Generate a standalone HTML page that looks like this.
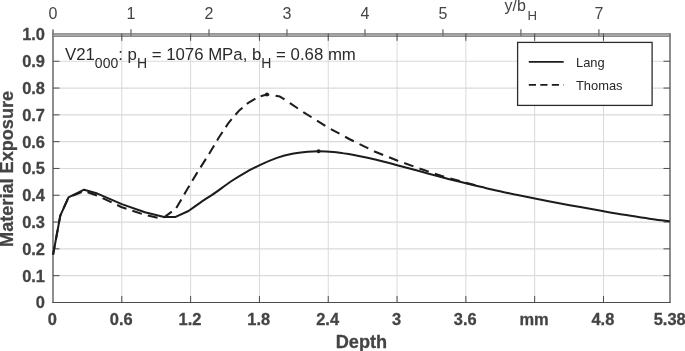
<!DOCTYPE html>
<html><head><meta charset="utf-8"><title>Material Exposure</title>
<style>
html,body{margin:0;padding:0;background:#fff;}
svg{display:block;}
text{font-family:"Liberation Sans",sans-serif;fill:#444;}
.b{font-weight:bold;stroke:#444;stroke-width:0.28px;}
.t{font-size:16.2px;}
</style></head><body>
<svg width="685" height="351" viewBox="0 0 685 351">
<rect width="685" height="351" fill="#fff"/>
<line x1="121.81" y1="34.45" x2="121.81" y2="302.45" stroke="#d4d6d6" stroke-width="0.9"/>
<line x1="190.62" y1="34.45" x2="190.62" y2="302.45" stroke="#d4d6d6" stroke-width="0.9"/>
<line x1="259.43" y1="34.45" x2="259.43" y2="302.45" stroke="#d4d6d6" stroke-width="0.9"/>
<line x1="328.24" y1="34.45" x2="328.24" y2="302.45" stroke="#d4d6d6" stroke-width="0.9"/>
<line x1="397.05" y1="34.45" x2="397.05" y2="302.45" stroke="#d4d6d6" stroke-width="0.9"/>
<line x1="465.86" y1="34.45" x2="465.86" y2="302.45" stroke="#d4d6d6" stroke-width="0.9"/>
<line x1="534.67" y1="34.45" x2="534.67" y2="302.45" stroke="#d4d6d6" stroke-width="0.9"/>
<line x1="603.48" y1="34.45" x2="603.48" y2="302.45" stroke="#d4d6d6" stroke-width="0.9"/>
<line x1="53.0" y1="275.65" x2="670.0" y2="275.65" stroke="#d9dbdb" stroke-width="1.15"/>
<line x1="53.0" y1="248.85" x2="670.0" y2="248.85" stroke="#d9dbdb" stroke-width="1.15"/>
<line x1="53.0" y1="222.05" x2="670.0" y2="222.05" stroke="#d9dbdb" stroke-width="1.15"/>
<line x1="53.0" y1="195.25" x2="670.0" y2="195.25" stroke="#d9dbdb" stroke-width="1.15"/>
<line x1="53.0" y1="168.45" x2="670.0" y2="168.45" stroke="#d9dbdb" stroke-width="1.15"/>
<line x1="53.0" y1="141.65" x2="670.0" y2="141.65" stroke="#d9dbdb" stroke-width="1.15"/>
<line x1="53.0" y1="114.85" x2="670.0" y2="114.85" stroke="#d9dbdb" stroke-width="1.15"/>
<line x1="53.0" y1="88.05" x2="670.0" y2="88.05" stroke="#d9dbdb" stroke-width="1.15"/>
<line x1="53.0" y1="61.25" x2="670.0" y2="61.25" stroke="#d9dbdb" stroke-width="1.15"/>
<rect x="52.5" y="33.2" width="618.0" height="3.7" fill="#adadad"/>
<line x1="52.5" y1="33.8" x2="670.5" y2="33.8" stroke="#888" stroke-width="1"/>
<line x1="52.5" y1="36.4" x2="670.5" y2="36.4" stroke="#888" stroke-width="1"/>
<line x1="53.0" y1="29.5" x2="53.0" y2="302.95" stroke="#7a7a7a" stroke-width="1.7"/>
<line x1="670.0" y1="33.5" x2="670.0" y2="302.95" stroke="#7a7a7a" stroke-width="1.7"/>
<line x1="52.5" y1="302.45" x2="670.5" y2="302.45" stroke="#4c4c4c" stroke-width="1.1"/>
<line x1="121.81" y1="302.45" x2="121.81" y2="295.95" stroke="#4c4c4c" stroke-width="1"/>
<line x1="121.81" y1="33.6" x2="121.81" y2="40.8" stroke="#4a4a4a" stroke-width="1"/>
<line x1="190.62" y1="302.45" x2="190.62" y2="295.95" stroke="#4c4c4c" stroke-width="1"/>
<line x1="190.62" y1="33.6" x2="190.62" y2="40.8" stroke="#4a4a4a" stroke-width="1"/>
<line x1="259.43" y1="302.45" x2="259.43" y2="295.95" stroke="#4c4c4c" stroke-width="1"/>
<line x1="259.43" y1="33.6" x2="259.43" y2="40.8" stroke="#4a4a4a" stroke-width="1"/>
<line x1="328.24" y1="302.45" x2="328.24" y2="295.95" stroke="#4c4c4c" stroke-width="1"/>
<line x1="328.24" y1="33.6" x2="328.24" y2="40.8" stroke="#4a4a4a" stroke-width="1"/>
<line x1="397.05" y1="302.45" x2="397.05" y2="295.95" stroke="#4c4c4c" stroke-width="1"/>
<line x1="397.05" y1="33.6" x2="397.05" y2="40.8" stroke="#4a4a4a" stroke-width="1"/>
<line x1="465.86" y1="302.45" x2="465.86" y2="295.95" stroke="#4c4c4c" stroke-width="1"/>
<line x1="465.86" y1="33.6" x2="465.86" y2="40.8" stroke="#4a4a4a" stroke-width="1"/>
<line x1="534.67" y1="302.45" x2="534.67" y2="295.95" stroke="#4c4c4c" stroke-width="1"/>
<line x1="534.67" y1="33.6" x2="534.67" y2="40.8" stroke="#4a4a4a" stroke-width="1"/>
<line x1="603.48" y1="302.45" x2="603.48" y2="295.95" stroke="#4c4c4c" stroke-width="1"/>
<line x1="603.48" y1="33.6" x2="603.48" y2="40.8" stroke="#4a4a4a" stroke-width="1"/>
<line x1="53.0" y1="275.65" x2="59.5" y2="275.65" stroke="#4c4c4c" stroke-width="1"/>
<line x1="670.0" y1="275.65" x2="663.5" y2="275.65" stroke="#4c4c4c" stroke-width="1"/>
<line x1="53.0" y1="248.85" x2="59.5" y2="248.85" stroke="#4c4c4c" stroke-width="1"/>
<line x1="670.0" y1="248.85" x2="663.5" y2="248.85" stroke="#4c4c4c" stroke-width="1"/>
<line x1="53.0" y1="222.05" x2="59.5" y2="222.05" stroke="#4c4c4c" stroke-width="1"/>
<line x1="670.0" y1="222.05" x2="663.5" y2="222.05" stroke="#4c4c4c" stroke-width="1"/>
<line x1="53.0" y1="195.25" x2="59.5" y2="195.25" stroke="#4c4c4c" stroke-width="1"/>
<line x1="670.0" y1="195.25" x2="663.5" y2="195.25" stroke="#4c4c4c" stroke-width="1"/>
<line x1="53.0" y1="168.45" x2="59.5" y2="168.45" stroke="#4c4c4c" stroke-width="1"/>
<line x1="670.0" y1="168.45" x2="663.5" y2="168.45" stroke="#4c4c4c" stroke-width="1"/>
<line x1="53.0" y1="141.65" x2="59.5" y2="141.65" stroke="#4c4c4c" stroke-width="1"/>
<line x1="670.0" y1="141.65" x2="663.5" y2="141.65" stroke="#4c4c4c" stroke-width="1"/>
<line x1="53.0" y1="114.85" x2="59.5" y2="114.85" stroke="#4c4c4c" stroke-width="1"/>
<line x1="670.0" y1="114.85" x2="663.5" y2="114.85" stroke="#4c4c4c" stroke-width="1"/>
<line x1="53.0" y1="88.05" x2="59.5" y2="88.05" stroke="#4c4c4c" stroke-width="1"/>
<line x1="670.0" y1="88.05" x2="663.5" y2="88.05" stroke="#4c4c4c" stroke-width="1"/>
<line x1="53.0" y1="61.25" x2="59.5" y2="61.25" stroke="#4c4c4c" stroke-width="1"/>
<line x1="670.0" y1="61.25" x2="663.5" y2="61.25" stroke="#4c4c4c" stroke-width="1"/>
<line x1="130.99" y1="29.3" x2="130.99" y2="36" stroke="#6e6e6e" stroke-width="1.3"/>
<line x1="208.97" y1="29.3" x2="208.97" y2="36" stroke="#6e6e6e" stroke-width="1.3"/>
<line x1="286.96" y1="29.3" x2="286.96" y2="36" stroke="#6e6e6e" stroke-width="1.3"/>
<line x1="364.94" y1="29.3" x2="364.94" y2="36" stroke="#6e6e6e" stroke-width="1.3"/>
<line x1="442.93" y1="29.3" x2="442.93" y2="36" stroke="#6e6e6e" stroke-width="1.3"/>
<line x1="520.91" y1="29.3" x2="520.91" y2="36" stroke="#6e6e6e" stroke-width="1.3"/>
<line x1="598.90" y1="29.3" x2="598.90" y2="36" stroke="#6e6e6e" stroke-width="1.3"/>
<polyline points="53.1,254.6 60.3,215.6 68.5,197.4 84.1,191.0 97.4,195.6 121.8,207.2 144.9,214.9 157.7,217.7 164.1,217.4" fill="none" stroke="#1c1c1c" stroke-width="2.05" stroke-dasharray="10 6.2" stroke-dashoffset="0.9" stroke-linejoin="round"/>
<polyline points="164.1,217.4 176.0,208.5 186.5,190.5 197.2,172.6 209.6,153.1 218.7,137.7 229.0,122.3 238.9,110.8 247.9,103.1 257.8,97.2 266.9,94.5" fill="none" stroke="#1c1c1c" stroke-width="2.05" stroke-dasharray="10 5.8" stroke-dashoffset="0.4" stroke-linejoin="round"/>
<polyline points="266.9,94.5 273.5,95.2 279.9,96.6 284.9,99.7 291.5,104.2 303.3,112.1 328.2,127.6 350.2,139.5 375.2,151.8 397.2,160.5 419.1,168.4 441.1,175.8 463.0,182.0 481.8,186.8" fill="none" stroke="#1c1c1c" stroke-width="2.05" stroke-dasharray="9.8 6.4" stroke-dashoffset="7.4" stroke-linejoin="round"/>
<path d="M53.1,254.6 L60.3,215.6 L68.5,197.4 L84.1,189.7 L97.4,193.6 L121.8,204.1 L144.9,212.3 L164.1,216.9 L175.6,216.9 L188.5,211.0 C190.4,209.6 195.5,205.9 200.0,202.8 C204.5,199.7 210.3,196.2 215.4,192.6 C220.5,189.0 225.7,184.9 230.8,181.5 C235.9,178.1 241.3,174.9 246.2,172.1 C251.1,169.3 255.2,167.3 260.3,164.9 C265.4,162.5 271.6,159.8 276.9,157.9 C282.2,156.1 287.2,154.8 292.3,153.8 C297.4,152.8 303.3,152.2 307.7,151.8 C312.1,151.4 314.2,151.3 318.5,151.3 C322.8,151.3 328.3,151.5 333.3,152.0 C338.3,152.5 344.2,153.4 348.7,154.1 C353.1,154.8 355.6,155.3 360.0,156.2 C364.4,157.1 369.0,158.1 375.2,159.6 C381.4,161.1 389.9,163.3 397.2,165.2 C404.5,167.1 411.8,169.1 419.1,171.1 C426.4,173.1 433.8,175.1 441.1,177.0 C448.4,178.9 456.2,180.9 463.0,182.6 C469.8,184.3 475.8,185.7 481.8,187.1 C487.8,188.5 492.8,189.7 498.8,191.0 C504.8,192.3 511.6,193.8 517.6,195.0 C523.6,196.2 528.6,197.2 534.9,198.5 C541.2,199.8 547.6,201.1 555.2,202.5 C562.8,203.9 572.2,205.6 580.3,207.1 C588.4,208.6 596.5,210.0 603.8,211.3 C611.1,212.6 616.6,213.6 624.2,214.8 C631.8,216.0 641.7,217.6 649.3,218.7 C656.9,219.8 666.3,220.9 669.7,221.3" fill="none" stroke="#1c1c1c" stroke-width="2.05" stroke-linejoin="round"/>
<circle cx="318.6" cy="151.3" r="2" fill="#1c1c1c"/>
<circle cx="266.9" cy="94.6" r="2" fill="#1c1c1c"/>
<rect x="517.6" y="42.4" width="134.5" height="63" fill="#fff" stroke="#2c2c2c" stroke-width="1.3"/>
<line x1="528.8" y1="61.8" x2="563.7" y2="61.8" stroke="#1c1c1c" stroke-width="1.8"/>
<line x1="528.8" y1="84.9" x2="563.7" y2="84.9" stroke="#1c1c1c" stroke-width="1.8" stroke-dasharray="7.2 4.3"/>
<text x="576.0" y="66.5" font-size="12.9" style="fill:#262626">Lang</text>
<text x="576.0" y="90.0" font-size="12.9" style="fill:#262626">Thomas</text>
<text x="65" y="59.5" font-size="16.8" style="fill:#2a2a2a">V21<tspan font-size="14" dy="8.2">000</tspan><tspan dy="-8.2">: p</tspan><tspan font-size="14" dy="8.2">H</tspan><tspan dy="-8.2"> = 1076 MPa, b</tspan><tspan font-size="14" dy="8.2">H</tspan><tspan dy="-8.2"> = 0.68 mm</tspan></text>
<text class="b t" transform="translate(45.0,308.4) scale(1.015,1)" text-anchor="end">0</text>
<text class="b t" transform="translate(45.0,281.6) scale(1.015,1)" text-anchor="end">0.1</text>
<text class="b t" transform="translate(45.0,254.8) scale(1.015,1)" text-anchor="end">0.2</text>
<text class="b t" transform="translate(45.0,228.0) scale(1.015,1)" text-anchor="end">0.3</text>
<text class="b t" transform="translate(45.0,201.2) scale(1.015,1)" text-anchor="end">0.4</text>
<text class="b t" transform="translate(45.0,174.4) scale(1.015,1)" text-anchor="end">0.5</text>
<text class="b t" transform="translate(45.0,147.6) scale(1.015,1)" text-anchor="end">0.6</text>
<text class="b t" transform="translate(45.0,120.8) scale(1.015,1)" text-anchor="end">0.7</text>
<text class="b t" transform="translate(45.0,94.0) scale(1.015,1)" text-anchor="end">0.8</text>
<text class="b t" transform="translate(45.0,67.2) scale(1.015,1)" text-anchor="end">0.9</text>
<text class="b t" transform="translate(45.0,40.4) scale(1.015,1)" text-anchor="end">1.0</text>
<text class="b t" transform="translate(52.4,324.9) scale(1.015,1)" text-anchor="middle">0</text>
<text class="b t" transform="translate(121.2,324.9) scale(1.015,1)" text-anchor="middle">0.6</text>
<text class="b t" transform="translate(190.0,324.9) scale(1.015,1)" text-anchor="middle">1.2</text>
<text class="b t" transform="translate(258.8,324.9) scale(1.015,1)" text-anchor="middle">1.8</text>
<text class="b t" transform="translate(327.6,324.9) scale(1.015,1)" text-anchor="middle">2.4</text>
<text class="b t" transform="translate(396.5,324.9) scale(1.015,1)" text-anchor="middle">3</text>
<text class="b t" transform="translate(465.3,324.9) scale(1.015,1)" text-anchor="middle">3.6</text>
<text class="b t" transform="translate(534.1,324.9) scale(1.015,1)" text-anchor="middle">mm</text>
<text class="b t" transform="translate(602.9,324.9) scale(1.015,1)" text-anchor="middle">4.8</text>
<text class="b t" transform="translate(669.7,324.9) scale(1.015,1)" text-anchor="middle">5.38</text>
<text x="53.0" y="18.6" font-size="16" text-anchor="middle">0</text>
<text x="131.0" y="18.6" font-size="16" text-anchor="middle">1</text>
<text x="209.0" y="18.6" font-size="16" text-anchor="middle">2</text>
<text x="287.0" y="18.6" font-size="16" text-anchor="middle">3</text>
<text x="364.9" y="18.6" font-size="16" text-anchor="middle">4</text>
<text x="442.9" y="18.6" font-size="16" text-anchor="middle">5</text>
<text x="598.9" y="18.6" font-size="16" text-anchor="middle">7</text>
<text x="504.6" y="11.4" font-size="16">y/b<tspan font-size="13.2" dx="1.5" dy="8.3">H</tspan></text>
<text class="b" transform="translate(361.4,347.6) scale(1.03,1)" font-size="17.6" text-anchor="middle">Depth</text>
<text class="b" transform="translate(13.4,168.9) rotate(-90) scale(1.03,1)" font-size="17.6" text-anchor="middle">Material Exposure</text>
</svg></body></html>
